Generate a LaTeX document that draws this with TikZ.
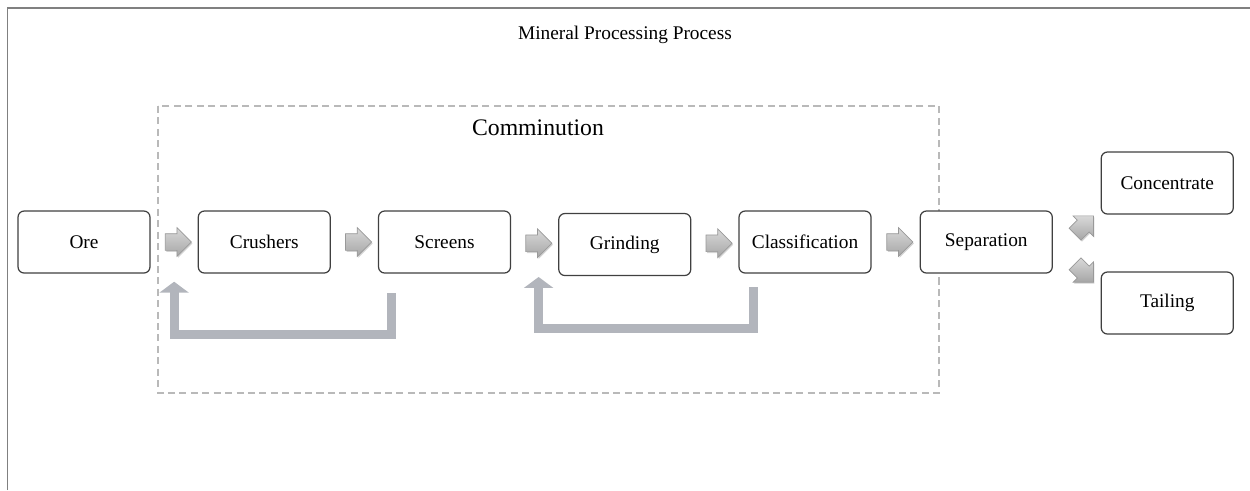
\documentclass[tikz,border=0pt]{standalone}
\usepackage{fontspec}
\setmainfont{Liberation Serif}
\usetikzlibrary{positioning,shapes,arrows.meta,calc,shadows}
\definecolor{loopgray}{RGB}{178,181,188}

\begin{document}
\begin{tikzpicture}
  [
    stage box/.style={draw=black!75, fill=white, rounded corners=3.5pt, line width=0.7pt, outer sep=0pt, minimum width=2.64cm, minimum height=1.24cm, font=\fontsize{11}{13}\selectfont},
    flow arrow/.style={single arrow, draw=gray!80, top color=gray!30, bottom color=gray!70, minimum height=0.52cm, single arrow head extend=0.12cm, inner xsep=0pt, inner ysep=0.16cm, drop shadow={opacity=0.35, shadow xshift=0.6pt, shadow yshift=-0.8pt}},
    loop arrow/.style={draw=loopgray, line width=0.18cm, -{Triangle[width=0.58cm,length=0.22cm]}},
  ]

  \useasboundingbox (0,0) rectangle (25,-9.8);
  \draw[gray, line width=0.9pt] (0.15,-9.8) -- (0.15,-0.16) -- (25,-0.16);

  \node[font=\fontsize{11}{13}\selectfont] (title) at (12.5,-0.70) {Mineral Processing Process};

  % comminution group
  \draw[gray!55, dash pattern=on 4pt off 2.5pt, line width=0.6pt] (3.16,-2.12) rectangle (18.78,-7.86);
  \node[font=\fontsize{13.5}{16}\selectfont] (commlabel) at (10.76,-2.56) {Comminution};

  \node[stage box] (ore) at (1.68,-4.84) {Ore};
  \node[stage box, right=0.965cm of ore] (crush) {Crushers};
  \node[stage box, right=0.965cm of crush] (screen) {Screens};
  \node[stage box, right=0.965cm of screen, yshift=-0.05cm] (grind) {Grinding};
  \node[stage box, right=0.965cm of grind, yshift=0.05cm] (classif) {Classification};
  \node[stage box, right=0.985cm of classif] (sep) {Separation};
  \node[stage box, anchor=west] (conc) at ($(sep.east)+(0.98,1.18)$) {Concentrate};
  \node[stage box, anchor=west] (tail) at ($(sep.east)+(0.98,-1.22)$) {Tailing};

  \foreach \a/\b [count=\k] in {ore/crush, crush/screen, screen/grind, grind/classif, classif/sep}
    {
     \node[flow arrow] (a\k) at ($(\a.east)!0.5!(\b.west)$) {};
    }
  \node[flow arrow, rotate=45] (aup) at ($(sep.east)+(0.58,0.28)$) {};
  \node[flow arrow, rotate=-45] (adown) at ($(sep.east)+(0.58,-0.56)$) {};

  % recycle loops
  \coordinate (fb1s) at ($(screen.south west)+(0.26,-0.4)$);
  \coordinate (fb1e) at ($(a1.south)+(0,-0.62)$);
  \draw[loop arrow] (fb1s) -- ++(0,-0.82) -| (fb1e);

  \coordinate (fb2s) at ($(classif.south west)+(0.28,-0.28)$);
  \coordinate (fb2e) at ($(a3.south)+(0.08,-0.5)$);
  \draw[loop arrow] (fb2s) -- ++(0,-0.82) -| (fb2e);

  %\draw[help lines] (0,-9.8) grid (25,0);

\end{tikzpicture}
\end{document}
